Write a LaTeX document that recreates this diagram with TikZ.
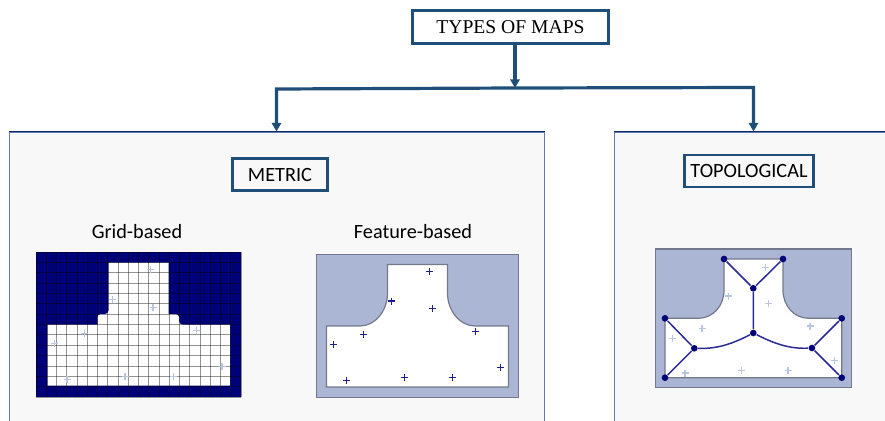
\documentclass[tikz,border=0pt]{standalone}
\usepackage{fontspec}
\setmainfont{Carlito}
\newfontfamily\titlefont{Liberation Serif}
\usetikzlibrary{arrows.meta}

\tikzset{every picture/.style={line width=0.75pt}}
\tikzset{
  panelbox/.style={draw={rgb, 255:red, 100; green, 122; blue, 170},line width=0.9pt,fill={rgb, 255:red, 248; green, 248; blue, 248},anchor=north west,inner sep=0pt},
  paneltop/.style={draw={rgb, 255:red, 15; green, 40; blue, 105},line width=0.9pt},
  labelbox/.style={draw={rgb, 255:red, 31; green, 78; blue, 121},line width=2pt,fill={rgb, 255:red, 248; green, 248; blue, 248},inner sep=0pt,font=\fontsize{15.2}{18}\selectfont},
  link/.style={draw={rgb, 255:red, 31; green, 78; blue, 121},line width=2.4pt},
  linktip/.style={link,-{Triangle[length=6.5pt,width=7pt]}},
  mapback/.style={draw={rgb, 255:red, 115; green, 120; blue, 140},line width=0.9pt,fill={rgb, 255:red, 170; green, 182; blue, 211}},
  mapfree/.style={draw={rgb, 255:red, 115; green, 120; blue, 140},line width=0.9pt,fill=white},
  crossdark/.style={draw={rgb, 255:red, 30; green, 30; blue, 140},line width=1pt},
  crosspale/.style={draw={rgb, 255:red, 185; green, 198; blue, 226},line width=1pt},
  place/.style={circle,fill={rgb, 255:red, 0; green, 0; blue, 120},inner sep=0pt,minimum size=5pt},
  road/.style={draw={rgb, 255:red, 40; green, 40; blue, 150},line width=1.1pt},
  maptext/.style={font=\fontsize{15.2}{18}\selectfont}
}

\begin{document}
\begin{tikzpicture}[x=0.75pt,y=0.75pt,yscale=-1,xscale=1]
\useasboundingbox (0,0) rectangle (885,421);
\clip (0,0) rectangle (885,421);

%Panels
\node [panelbox,minimum width=401.25pt,minimum height=240pt] (metricpanel) at (9,131.5) {};
\node [panelbox,minimum width=240pt,minimum height=240pt] (topopanel) at (614,131.5) {};
\draw [paneltop] (metricpanel.north west) -- (metricpanel.north east);
\draw [paneltop] (topopanel.north west) -- (topopanel.north east);

% Text Node
\node [labelbox,fill=white,minimum width=147pt,minimum height=25pt,font=\titlefont\fontsize{14.7}{17}\selectfont] (title) at (510.5,27) {TYPES OF MAPS};
\node [labelbox,minimum width=71pt,minimum height=24pt] (metric) at (280,174.5) {METRIC};
\node [labelbox,minimum width=97pt,minimum height=24pt] (topo) at (749,171) {TOPOLOGICAL};
\node [maptext] (gridlabel) at (137,232) {Grid-based};
\node [maptext] (featurelabel) at (413,232) {Feature-based};

%Connectors
\coordinate (junction) at (515,88);
\coordinate (bendleft) at (276.5,89);
\coordinate (bendright) at (753.5,87.5);
\draw [linktip] (title.south -| junction) -- (junction);
\draw [linktip] (junction) -- (bendleft) -- (metricpanel.north -| bendleft);
\draw [linktip] (junction) -- (bendright) -- (topopanel.north -| bendright);

%Grid map
\fill [color={rgb, 255:red, 0; green, 0; blue, 120}] (36,252) rectangle (241,397);
\fill [white] (47.5,385.5) -- (47.5,324.5) -- (97.5,324.5) [rounded corners=2.5pt] -- (97.5,314) -- (108.5,314) [sharp corners] -- (108.5,262.5) -- (168.5,262.5) -- (168.5,314) [rounded corners=2.5pt] -- (179,314) -- (179,324.5) [sharp corners] -- (230,324.5) -- (230,385.5) -- cycle;
\foreach \i in {0,...,20}
  \draw [black,opacity=0.42,line width=0.6pt] (36+\i*10.25,252) -- (36+\i*10.25,397);
\foreach \j in {0,...,14}
  \draw [black,opacity=0.42,line width=0.6pt] (36,252+\j*10.36) -- (241,252+\j*10.36);
\foreach \x/\y in {150.7/269.7,112.7/299.7,153/307.3,84.7/333.3,54.3/343.7,196.3/330.3,222/366.3,67/379.3,125/376.7,173.3/376.7}
  \draw [crosspale] (\x-3.5,\y) -- (\x+3.5,\y) (\x,\y-3.5) -- (\x,\y+3.5);

%Feature map
\draw [mapback] (316.5,254.5) rectangle (518.5,397.5);
\draw [mapfree] (326.5,387) -- (326.5,326) -- (360,326) .. controls (375,326) and (387.5,311) .. (387.5,293) -- (387.5,264.5) -- (447.5,264.5) -- (447.5,293) .. controls (447.5,311) and (460,326) .. (475,326) -- (508.5,326) -- (508.5,387) -- cycle;
\foreach \x/\y in {429.7/271.7,391.7/301,432.3/308.7,363.7/334.3,475.3/331.7,333.3/344.7,500.3/367.3,346.3/380.3,404.3/377.7,452.3/377.7}
  \draw [crossdark] (\x-3.5,\y) -- (\x+3.5,\y) (\x,\y-3.5) -- (\x,\y+3.5);

%Topological map
\draw [mapback] (655.5,249) rectangle (851.5,387.5);
\draw [mapfree] (665,377.7) -- (665,318.3) -- (698,318.3) .. controls (713,318.3) and (724,306) .. (724,290) -- (724,259) -- (783,259) -- (783,290) .. controls (783,306) and (794,318.3) .. (809,318.3) -- (841.7,318.3) -- (841.7,377.7) -- cycle;
\foreach \x/\y in {765.7/267.7,728.7/296,768.3/303.7,702/328.3,810/326,672.3/338.3,834.3/360.3,685/373,741.3/370.3,788/370.3}
  \draw [crosspale] (\x-3.5,\y) -- (\x+3.5,\y) (\x,\y-3.5) -- (\x,\y+3.5);

\node [place] (topleft) at (724,259) {};
\node [place] (topright) at (783,259) {};
\node [place] (neck) at (753.3,288.3) {};
\node [place] (centre) at (753.3,333) {};
\node [place] (armleft) at (665,318.3) {};
\node [place] (hubleft) at (694.3,348.3) {};
\node [place] (footleft) at (665,377.7) {};
\node [place] (armright) at (841.7,318.3) {};
\node [place] (hubright) at (812,348) {};
\node [place] (footright) at (841.7,377.7) {};

\draw [road] (topleft) -- (neck) (topright) -- (neck) (neck) -- (centre);
\draw [road] (armleft) -- (hubleft) (footleft) -- (hubleft);
\draw [road] (armright) -- (hubright) (footright) -- (hubright);
\draw [road] (hubleft) .. controls (717,349) and (732,344) .. (centre);
\draw [road] (hubright) .. controls (790,349) and (775,344) .. (centre);

\end{tikzpicture}
\end{document}
